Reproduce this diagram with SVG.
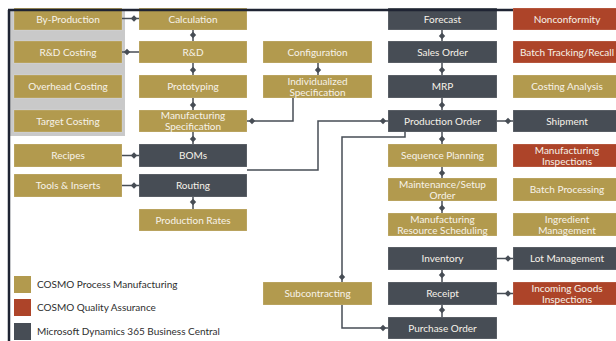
<svg xmlns="http://www.w3.org/2000/svg" width="616" height="341" viewBox="0 0 616 341">
<defs>
<style>
.g{fill:#B29A4E}
.r{fill:#AD4429}
.d{fill:#474D55}
.b rect{stroke:#ffffff;stroke-opacity:0.25;stroke-width:0.8}
.t{font-family:Lato,"Liberation Sans",sans-serif;font-size:10px;fill:#F7F3EA;text-anchor:middle}
.lg{font-family:Lato,"Liberation Sans",sans-serif;font-size:10px;fill:#2E2E2E}
.c path{fill:none;stroke:#474D55;stroke-width:1.5;marker-end:url(#dm)}
</style>
<marker id="dm" viewBox="0 -4 12 8" refX="11.5" refY="0" markerWidth="12" markerHeight="8" markerUnits="userSpaceOnUse" orient="auto">
<path d="M3.3,0 L6.5,-3.2 L9.7,0 L6.5,3.2 Z" fill="#474D55"/>
</marker>
</defs>
<rect x="0" y="0" width="616" height="341" fill="#FFFFFF"/>
<rect id="costing-panel" x="10" y="10" width="115" height="126" fill="#C9C9C9"/>

<g class="b">
<g id="by-production"><rect class="g" x="14" y="8" width="108" height="22"/><text class="t" x="68" y="22.5">By-Production</text></g>
<g id="rd-costing"><rect class="g" x="14" y="41" width="108" height="22"/><text class="t" x="68" y="55.5">R&amp;D Costing</text></g>
<g id="overhead-costing"><rect class="g" x="14" y="75" width="108" height="23"/><text class="t" x="68" y="90">Overhead Costing</text></g>
<g id="target-costing"><rect class="g" x="14" y="110" width="108" height="22"/><text class="t" x="68" y="124.5">Target Costing</text></g>
<g id="recipes"><rect class="g" x="14" y="144" width="108" height="23"/><text class="t" x="68" y="159">Recipes</text></g>
<g id="tools-inserts"><rect class="g" x="14" y="174" width="108" height="23"/><text class="t" x="68" y="189">Tools &amp; Inserts</text></g>

<g id="calculation"><rect class="g" x="139" y="8" width="108" height="22"/><text class="t" x="193" y="22.5">Calculation</text></g>
<g id="rd"><rect class="g" x="139" y="41" width="108" height="22"/><text class="t" x="193" y="55.5">R&amp;D</text></g>
<g id="prototyping"><rect class="g" x="139" y="75" width="108" height="23"/><text class="t" x="193" y="90">Prototyping</text></g>
<g id="manufacturing-specification"><rect class="g" x="139" y="110" width="108" height="22"/><text class="t" x="193" y="119">Manufacturing</text><text class="t" x="193" y="130">Specification</text></g>
<g id="boms"><rect class="d" x="139" y="144" width="108" height="23"/><text class="t" x="193" y="159">BOMs</text></g>
<g id="routing"><rect class="d" x="139" y="174" width="108" height="23"/><text class="t" x="193" y="189">Routing</text></g>
<g id="production-rates"><rect class="g" x="139" y="209" width="108" height="22"/><text class="t" x="193" y="223.5">Production Rates</text></g>

<g id="configuration"><rect class="g" x="263" y="41" width="109" height="22"/><text class="t" x="317.5" y="55.5">Configuration</text></g>
<g id="individualized-specification"><rect class="g" x="263" y="75" width="109" height="23"/><text class="t" x="317.5" y="84.5">Individualized</text><text class="t" x="317.5" y="95.5">Specification</text></g>
<g id="subcontracting"><rect class="g" x="263" y="282" width="109" height="23"/><text class="t" x="317.5" y="297">Subcontracting</text></g>

<g id="forecast"><rect class="d" x="388" y="8" width="109" height="22"/><text class="t" x="442.5" y="22.5">Forecast</text></g>
<g id="sales-order"><rect class="d" x="388" y="41" width="109" height="22"/><text class="t" x="442.5" y="55.5">Sales Order</text></g>
<g id="mrp"><rect class="d" x="388" y="75" width="109" height="23"/><text class="t" x="442.5" y="90">MRP</text></g>
<g id="production-order"><rect class="d" x="388" y="110" width="109" height="22"/><text class="t" x="442.5" y="124.5">Production Order</text></g>
<g id="sequence-planning"><rect class="g" x="388" y="144" width="109" height="23"/><text class="t" x="442.5" y="159">Sequence Planning</text></g>
<g id="maintenance-setup-order"><rect class="g" x="388" y="178" width="109" height="23"/><text class="t" x="442.5" y="187.5">Maintenance/Setup</text><text class="t" x="442.5" y="198.5">Order</text></g>
<g id="manufacturing-resource-scheduling"><rect class="g" x="388" y="213" width="109" height="23"/><text class="t" x="442.5" y="222.5">Manufacturing</text><text class="t" x="442.5" y="233.5">Resource Scheduling</text></g>
<g id="inventory"><rect class="d" x="388" y="247" width="109" height="23"/><text class="t" x="442.5" y="262">Inventory</text></g>
<g id="receipt"><rect class="d" x="388" y="282" width="109" height="23"/><text class="t" x="442.5" y="297">Receipt</text></g>
<g id="purchase-order"><rect class="d" x="388" y="317" width="109" height="22"/><text class="t" x="442.5" y="331.5">Purchase Order</text></g>

<g id="nonconformity"><rect class="r" x="513" y="8" width="108" height="22"/><text class="t" x="567" y="22.5">Nonconformity</text></g>
<g id="batch-tracking-recall"><rect class="r" x="513" y="41" width="108" height="22"/><text class="t" x="567" y="55.5">Batch Tracking/Recall</text></g>
<g id="costing-analysis"><rect class="g" x="513" y="75" width="108" height="23"/><text class="t" x="567" y="90">Costing Analysis</text></g>
<g id="shipment"><rect class="d" x="513" y="110" width="108" height="22"/><text class="t" x="567" y="124.5">Shipment</text></g>
<g id="manufacturing-inspections"><rect class="r" x="513" y="144" width="108" height="23"/><text class="t" x="567" y="153.5">Manufacturing</text><text class="t" x="567" y="164.5">Inspections</text></g>
<g id="batch-processing"><rect class="g" x="513" y="178" width="108" height="23"/><text class="t" x="567" y="193">Batch Processing</text></g>
<g id="ingredient-management"><rect class="g" x="513" y="213" width="108" height="23"/><text class="t" x="567" y="222.5">Ingredient</text><text class="t" x="567" y="233.5">Management</text></g>
<g id="lot-management"><rect class="d" x="513" y="247" width="108" height="23"/><text class="t" x="567" y="262">Lot Management</text></g>
<g id="incoming-goods-inspections"><rect class="r" x="513" y="282" width="108" height="23"/><text class="t" x="567" y="291.5">Incoming Goods</text><text class="t" x="567" y="302.5">Inspections</text></g>
</g>

<g id="frame" fill="none" stroke="#1F2433" stroke-width="2.5">
<path d="M8,10 H513"/>
<path d="M9,10 V341"/>
</g>

<g id="connectors" class="c">
<path d="M122,18.5 H139"/>
<path d="M139,52 H122"/>
<path d="M193,41 V30"/>
<path d="M193,63 V75"/>
<path d="M193,98 V110"/>
<path d="M193,132 V144"/>
<path d="M293,98 V121 H247"/>
<path d="M318,63 V75"/>
<path d="M122,155.5 H139"/>
<path d="M122,185.5 H139"/>
<path d="M193,209 V197"/>
<path d="M247,170 H318 V121 H388"/>
<path d="M405,132 V137 H342 V282"/>
<path d="M342,305 V328 H388"/>
<path d="M442,30 V41"/>
<path d="M442,63 V75"/>
<path d="M442,98 V110"/>
<path d="M442,132 V144"/>
<path d="M442,167 V178"/>
<path d="M442,201 V213"/>
<path d="M497,121 H513"/>
<path d="M497,258.5 H513"/>
<path d="M497,293.5 H513"/>
<path d="M442,282 V270"/>
<path d="M442,317 V305"/>
</g>

<g id="legend">
<rect class="g" x="14" y="276" width="17" height="17"/>
<text class="lg" x="37" y="288">COSMO Process Manufacturing</text>
<rect class="r" x="14" y="299" width="17" height="17"/>
<text class="lg" x="37" y="311">COSMO Quality Assurance</text>
<rect class="d" x="14" y="323" width="17" height="17"/>
<text class="lg" x="37" y="334.5">Microsoft Dynamics 365 Business Central</text>
</g>
</svg>
